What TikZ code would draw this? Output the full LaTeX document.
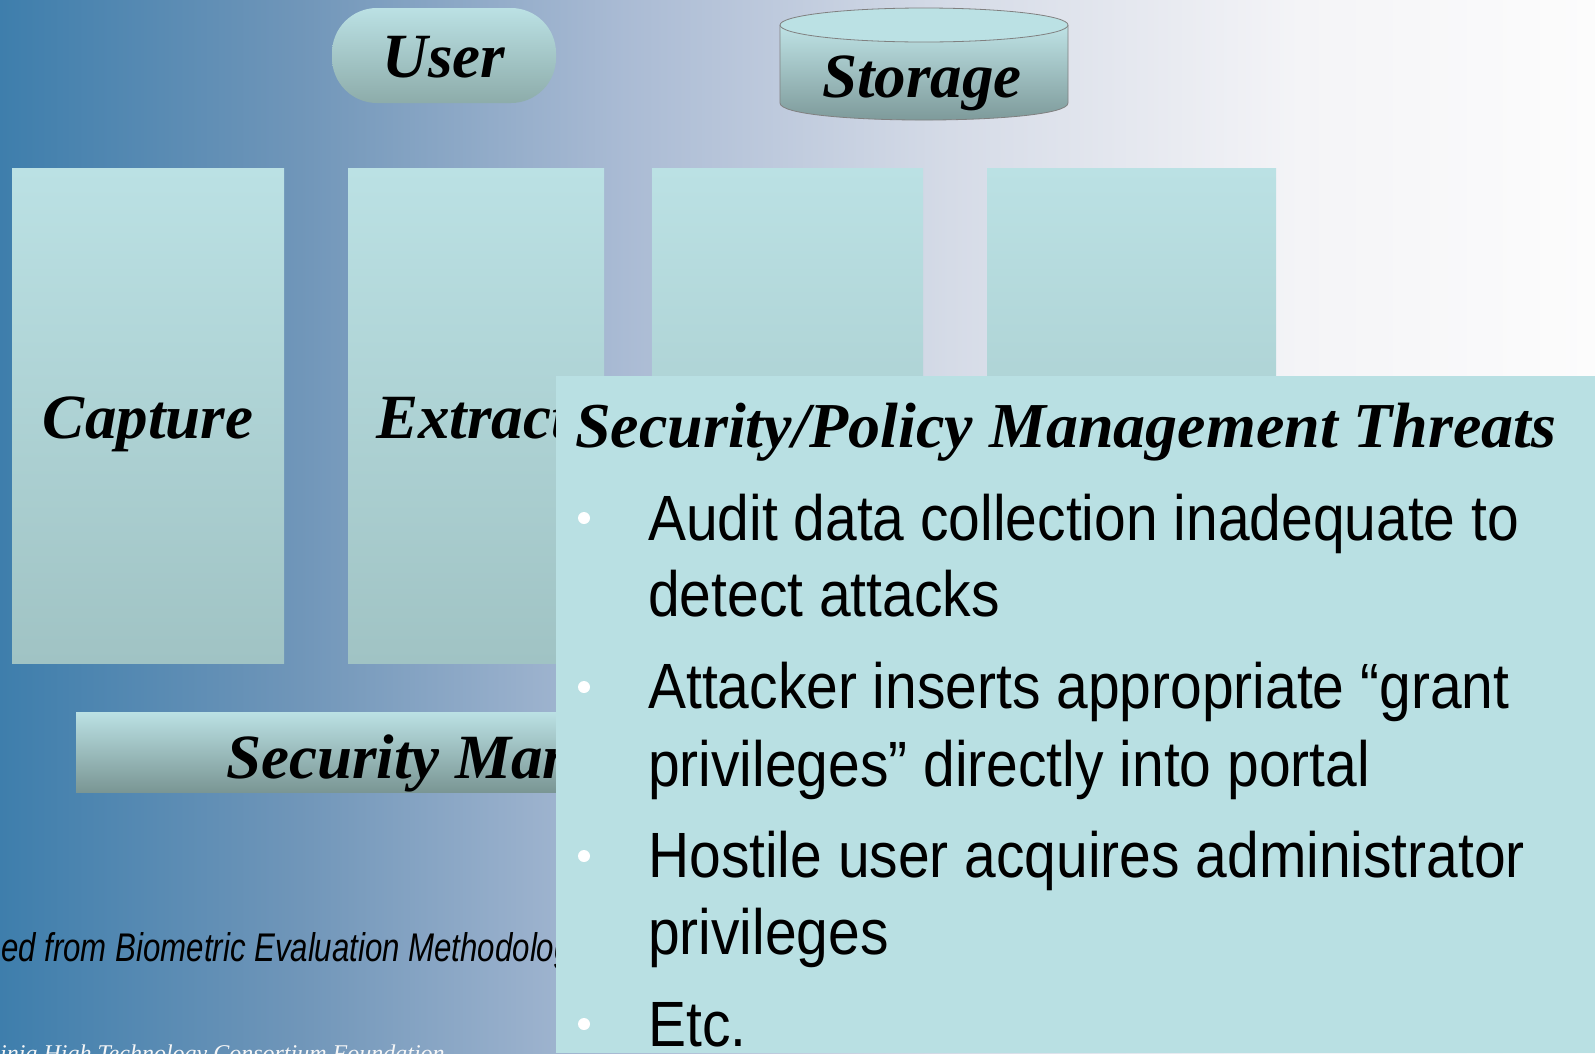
\documentclass[tikz,border=0pt]{standalone}
\usepackage{fontspec}
\setmainfont{Liberation Serif}
\newfontfamily\narrowsans[FakeStretch=0.89]{Liberation Sans}
\newfontfamily\creditsans[FakeStretch=0.78]{Liberation Sans}

% slide background, left to right
\definecolor{bgA}{RGB}{62,126,172}
\definecolor{bgB}{RGB}{112,150,185}
\definecolor{bgC}{RGB}{170,187,212}
\definecolor{bgD}{RGB}{213,219,231}
\definecolor{bgE}{RGB}{244,244,247}
\definecolor{bgF}{RGB}{252,252,252}
\pgfdeclarehorizontalshading{slidebg}{100bp}{color(0bp)=(bgA); color(25bp)=(bgA);
  color(34.4bp)=(bgB); color(44.59bp)=(bgC); color(54.78bp)=(bgD);
  color(65.75bp)=(bgE); color(75bp)=(bgF); color(100bp)=(bgF)}

\definecolor{tealtop}{RGB}{187,225,228}
\definecolor{boxbot}{RGB}{160,195,196}
\definecolor{pillbot}{RGB}{141,172,170}
\definecolor{barmid}{RGB}{165,199,200}
\definecolor{barbot}{RGB}{122,150,148}
\definecolor{cylbot}{RGB}{122,150,150}
\definecolor{panel}{RGB}{185,224,227}
\definecolor{rim}{RGB}{128,128,128}

\begin{document}
\begin{tikzpicture}[x=1pt,y=-1pt,
  label/.style={font=\bfseries\itshape\fontsize{63}{75}\selectfont,
    anchor=base, inner sep=0pt},
  tallbox/.style={top color=tealtop, bottom color=boxbot},
  bullettext/.style={anchor=base west, inner sep=0pt,
    font=\narrowsans\fontsize{64}{77}\selectfont},
  dot/.style={circle, fill=white, inner sep=0pt, minimum size=12pt}]

\useasboundingbox (0,0) rectangle (1595,1053);
\clip (0,0) rectangle (1595,1053);
\shade[shading=slidebg] (0,0) rectangle (1595,1053);

% user terminal
\shade[top color=tealtop, bottom color=pillbot, rounded corners=45pt]
  (332,8) rectangle (556,103);
\node[label] (user) at (444,77) {User};

% storage cylinder
\shade[top color=tealtop!95!white, bottom color=cylbot]
  (780,25) -- (780,103) .. controls (780,125.7) and (1068,125.7) .. (1068,103)
  -- (1068,25) -- cycle;
\draw[rim, line width=0.8pt]
  (780,25) -- (780,103) .. controls (780,125.7) and (1068,125.7) .. (1068,103)
  -- (1068,25);
\filldraw[fill=tealtop, draw=rim, line width=0.8pt]
  (924,25) ellipse [x radius=144, y radius=17];
\node[label] (storage) at (922,97) {Storage};

% processing stages
\shade[tallbox] (12,168) rectangle (284,663);
\shade[tallbox] (348,168) rectangle (604,663);
\shade[tallbox] (652,168) rectangle (923,663);
\shade[tallbox] (987,168) rectangle (1276,663);
\node[label] (capture) at (148,438) {Capture};
\node[label, anchor=base west] (extract) at (376,438) {Extract};

% security management bar
\shade[top color=tealtop, middle color=barmid, bottom color=barbot]
  (76,712) rectangle (1200,792);
\node[label, anchor=base west] (secman) at (226,778) {Security Management};

% credits
\node[anchor=base west, inner sep=0pt,
  font=\creditsans\itshape\fontsize{40}{48}\selectfont] (credit) at (1,961)
  {ed from Biometric Evaluation Methodology};
\node[anchor=base west, inner sep=0pt, text=white!94!gray,
  font=\itshape\fontsize{24}{28}\selectfont] (org) at (0,1061)
  {inia High Technology Consortium Foundation};

% threats panel
\fill[panel] (556,376) rectangle (1595,1053);
\node[label, anchor=base west, font=\bfseries\itshape\fontsize{64}{76}\selectfont]
  (title) at (575,447) {Security/Policy Management Threats};

\node[dot] (b1) at (584,518) {};
\node[bullettext] (l1) at (648,540) {Audit data collection inadequate to};
\node[bullettext] (l2) at (648,616) {detect attacks};
\node[dot] (b2) at (584,687) {};
\node[bullettext] (l3) at (648,708) {Attacker inserts appropriate “grant};
\node[bullettext] (l4) at (648,786) {privileges” directly into portal};
\node[dot] (b3) at (584,856) {};
\node[bullettext] (l5) at (648,877) {Hostile user acquires administrator};
\node[bullettext] (l6) at (648,954) {privileges};
\node[dot] (b4) at (584,1024) {};
\node[bullettext] (l7) at (648,1046) {Etc.};
\end{tikzpicture}
\end{document}
